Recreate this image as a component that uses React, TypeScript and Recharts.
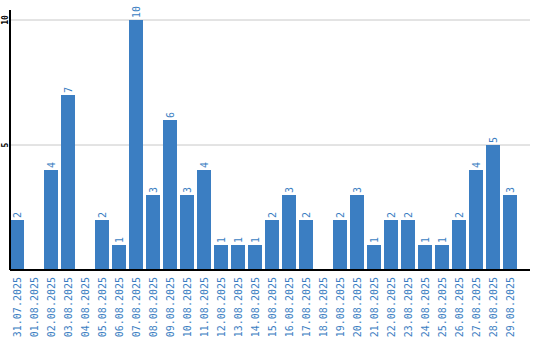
import { BarChart, Bar, XAxis, YAxis, CartesianGrid, LabelList } from 'recharts';

const dates = [
  '31.07.2025', '01.08.2025', '02.08.2025', '03.08.2025', '04.08.2025', '05.08.2025',
  '06.08.2025', '07.08.2025', '08.08.2025', '09.08.2025', '10.08.2025', '11.08.2025',
  '12.08.2025', '13.08.2025', '14.08.2025', '15.08.2025', '16.08.2025', '17.08.2025',
  '18.08.2025', '19.08.2025', '20.08.2025', '21.08.2025', '22.08.2025', '23.08.2025',
  '24.08.2025', '25.08.2025', '26.08.2025', '27.08.2025', '28.08.2025', '29.08.2025',
];
const counts = [2, 0, 4, 7, 0, 2, 1, 10, 3, 6, 3, 4, 1, 1, 1, 2, 3, 2, 0, 2, 3, 1, 2, 2, 1, 1, 2, 4, 5, 3];
const yTicks = [5, 10];

const BLUE = '#3b7ec2';
const MONO = '"DejaVu Sans Mono", "Liberation Mono", monospace';

const data = dates.map((d, i) => ({ date: d, count: counts[i] }));

const DateTick = ({ x, y, payload }: any) => (
  <text
    x={x}
    y={y + 7}
    transform={`rotate(-90, ${x}, ${y + 7})`}
    textAnchor="end"
    dominantBaseline="central"
    fill={BLUE}
    fontSize={10}
    fontFamily={MONO}
  >
    {payload.value}
  </text>
);

const CountTick = ({ y, payload }: any) => (
  <text
    x={5}
    y={y}
    transform={`rotate(-90, 5, ${y})`}
    textAnchor="middle"
    dominantBaseline="central"
    fill="#000"
    fontSize={8}
    fontWeight="bold"
    fontFamily={MONO}
  >
    {payload.value}
  </text>
);

const ValueLabel = ({ x, y, width, value }: any) => {
  if (!value) return null;
  const cx = x + width / 2;
  const ty = y - 2;
  return (
    <text
      x={cx}
      y={ty}
      transform={`rotate(-90, ${cx}, ${ty})`}
      textAnchor="start"
      dominantBaseline="central"
      fill={BLUE}
      fontSize={10}
      fontFamily={MONO}
    >
      {value}
    </text>
  );
};

export default function App() {
  return (
    <div style={{ position: 'absolute', left: 0, top: 0, width: 540, height: 340, background: '#fff' }}>
      <BarChart
        width={540}
        height={340}
        data={data}
        margin={{ top: 10, right: 10, left: 0, bottom: 0 }}
        barCategoryGap={1.5}
      >
        <CartesianGrid vertical={false} stroke="#c8c8c8" horizontalValues={yTicks} />
        <XAxis
          dataKey="date"
          interval={0}
          height={70}
          tickLine={false}
          tickSize={0}
          tickMargin={0}
          padding={{ left: -1.5, right: 11.5 }}
          axisLine={{ stroke: '#000', strokeWidth: 2 }}
          tick={<DateTick />}
        />
        <YAxis
          width={10}
          domain={[0, 10.4]}
          ticks={yTicks}
          tickLine={false}
          axisLine={{ stroke: '#000', strokeWidth: 2 }}
          tick={<CountTick />}
        />
        <Bar dataKey="count" fill={BLUE} isAnimationActive={false}>
          <LabelList dataKey="count" content={<ValueLabel />} />
        </Bar>
      </BarChart>
    </div>
  );
}
